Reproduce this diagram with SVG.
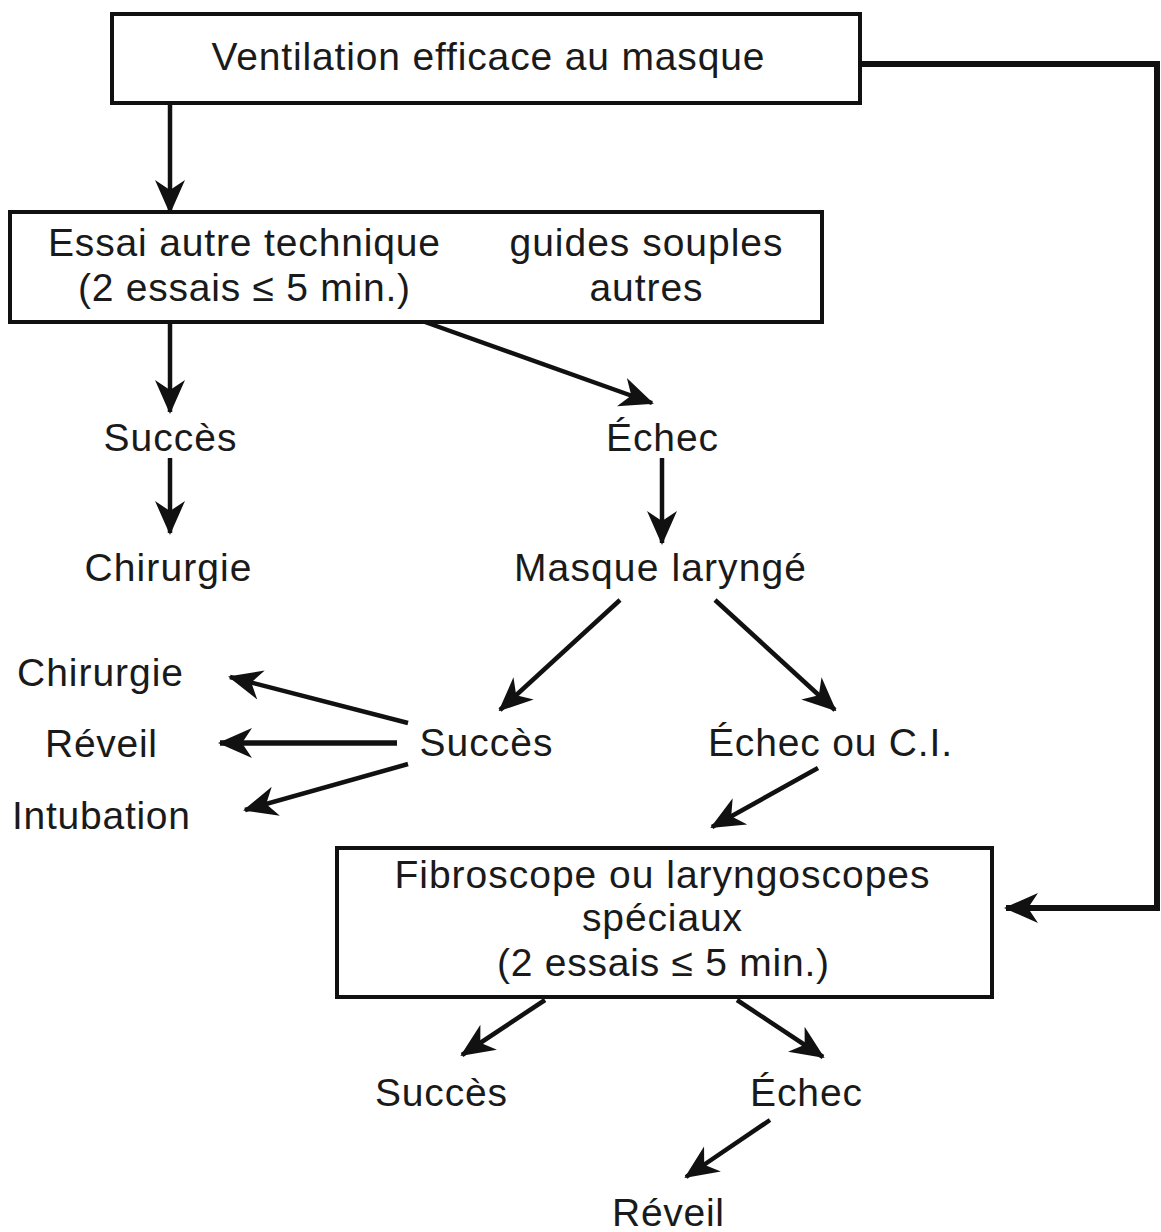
<svg xmlns="http://www.w3.org/2000/svg" width="1161" height="1232" viewBox="0 0 1161 1232">
<style>
.box{fill:#fff;stroke:#111;stroke-width:4}
.t{font-family:"Liberation Sans",Arial,sans-serif;font-size:39px;fill:#1a1a1a;text-anchor:middle}
.c{fill:none;stroke:#111;stroke-width:4.5;marker-end:url(#ah)}
</style>
<defs>
<marker id="ah" viewBox="0 0 34 32" refX="32" refY="16" markerWidth="34" markerHeight="32" markerUnits="userSpaceOnUse" orient="auto">
<path d="M0,1 L34,16 L0,31 L10,16 Z" fill="#111"/>
</marker>
</defs>
<rect width="1161" height="1232" fill="#fff"/>
<g id="connectors">
<polyline class="c" style="stroke-width:6" points="860,64 1157,64 1157,908 1006,908"/>
<line class="c" x1="170" y1="103" x2="170" y2="212"/>
<line class="c" x1="170" y1="322" x2="170" y2="412"/>
<line class="c" x1="425" y1="322" x2="652" y2="403"/>
<line class="c" x1="170" y1="458" x2="170" y2="533"/>
<line class="c" x1="662" y1="458" x2="662" y2="543"/>
<line class="c" x1="620" y1="600" x2="500" y2="710"/>
<line class="c" x1="715" y1="600" x2="835" y2="710"/>
<line class="c" x1="408" y1="723" x2="230" y2="677"/>
<line class="c" style="stroke-width:5.5" x1="397" y1="743" x2="220" y2="743"/>
<line class="c" x1="408" y1="764" x2="245" y2="810"/>
<line class="c" x1="818" y1="768" x2="712" y2="827"/>
<line class="c" x1="545" y1="1000" x2="462" y2="1055"/>
<line class="c" x1="737" y1="1000" x2="823" y2="1057"/>
<line class="c" x1="770" y1="1120" x2="686" y2="1177"/>
</g>
<g id="n-ventilation">
<rect class="box" x="112" y="14" width="748" height="89"/>
<text class="t" x="488" y="70" textLength="553">Ventilation efficace au masque</text>
</g>
<g id="n-essai">
<rect class="box" x="10" y="212" width="812" height="110"/>
<text class="t" x="244" y="256" textLength="392">Essai autre technique</text>
<text class="t" x="244" y="301" textLength="332">(2 essais ≤ 5 min.)</text>
<text class="t" x="646" y="256" textLength="273">guides souples</text>
<text class="t" x="646" y="301" textLength="113">autres</text>
</g>
<g id="n-succes1"><text class="t" x="170" y="451" textLength="133">Succès</text></g>
<g id="n-echec1"><text class="t" x="662" y="451" textLength="112">Échec</text></g>
<g id="n-chirurgie1"><text class="t" x="168" y="581" textLength="167">Chirurgie</text></g>
<g id="n-masque"><text class="t" x="660" y="581" textLength="292">Masque laryngé</text></g>
<g id="n-chirurgie2"><text class="t" x="100" y="686" textLength="166">Chirurgie</text></g>
<g id="n-reveil2"><text class="t" x="101" y="757" textLength="112">Réveil</text></g>
<g id="n-intubation"><text class="t" x="101" y="829" textLength="178">Intubation</text></g>
<g id="n-succes2"><text class="t" x="486" y="756" textLength="133">Succès</text></g>
<g id="n-echecci"><text class="t" x="830" y="756" textLength="244">Échec ou C.I.</text></g>
<g id="n-fibroscope">
<rect class="box" x="337" y="848" width="655" height="149"/>
<text class="t" x="662" y="888" textLength="535">Fibroscope ou laryngoscopes</text>
<text class="t" x="662" y="931" textLength="160">spéciaux</text>
<text class="t" x="663" y="976" textLength="332">(2 essais ≤ 5 min.)</text>
</g>
<g id="n-succes3"><text class="t" x="441" y="1106" textLength="132">Succès</text></g>
<g id="n-echec3"><text class="t" x="806" y="1106" textLength="112">Échec</text></g>
<g id="n-reveil3"><text class="t" x="668" y="1226" textLength="112">Réveil</text></g>
</svg>
